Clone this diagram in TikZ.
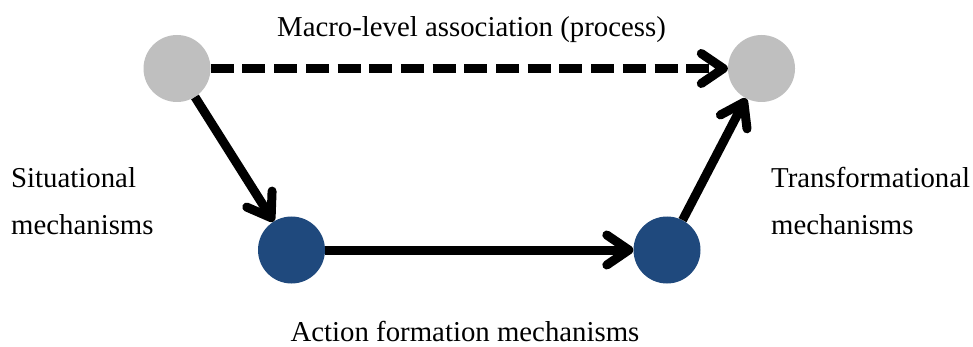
\documentclass[tikz,border=0pt]{standalone}
\usepackage{fontspec}
\setmainfont{Liberation Serif}
\usetikzlibrary{arrows.meta}
\definecolor{macrogray}{HTML}{BFBFBF}
\definecolor{microblue}{HTML}{1F497D}
\begin{document}
\begin{tikzpicture}[x=1pt,y=-1pt,
  macro/.style={circle,fill=macrogray,minimum size=67pt,inner sep=0pt,draw=none},
  micro/.style={circle,fill=microblue,minimum size=67pt,inner sep=0pt,draw=none},
  link/.style={line width=9pt,draw=black,-{Straight Barb[length=22pt,width=30pt,round]}},
  lbl/.style={font=\fontsize{28.8}{34}\selectfont,inner sep=0pt,anchor=base west}]
\useasboundingbox (0,0) rectangle (973,347);
\node[macro] (gl) at (177,68.5) {};
\node[macro] (gr) at (761.5,68.5) {};
\node[micro] (bl) at (291.5,250) {};
\node[micro] (br) at (667,250) {};
\draw[link,dash pattern=on 23pt off 8.7pt] (gl) -- (gr);
\draw[link] (gl) -- (bl);
\draw[link] (bl) -- (br);
\draw[link] (br) -- (gr);
\node[lbl,anchor=base] (macrotxt) at (471.5,37) {Macro-level association (process)};
\node[lbl] (sit1) at (11,188) {Situational};
\node[lbl] (sit2) at (11,234) {mechanisms};
\node[lbl] (tr1) at (771,188) {Transformational};
\node[lbl] (tr2) at (771,234) {mechanisms};
\node[lbl,anchor=base] (act) at (465,341.7) {Action formation mechanisms};
\end{tikzpicture}
\end{document}
